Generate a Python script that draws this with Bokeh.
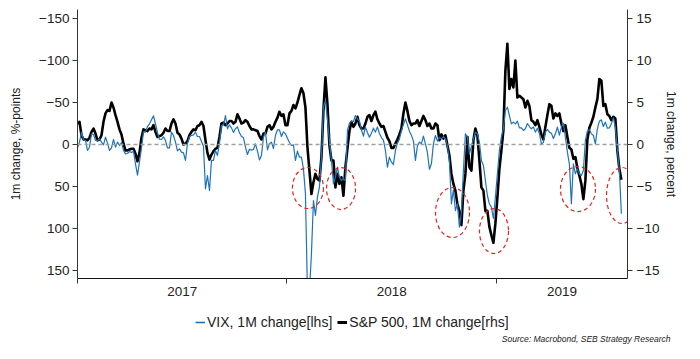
import numpy as np
from bokeh.plotting import figure
from bokeh.layouts import column
from bokeh.models import (Range1d, LinearAxis, FixedTicker, Span, Legend, LegendItem,
                          CustomJSTickFormatter, Title, ColumnDataSource)
from bokeh.embed import file_html
from bokeh.resources import INLINE

# ---------------- data ----------------
# VIX, 1M change (left axis, %-points), sampled roughly every 3.5 days from Jan 2017
vix_change = [
    4.0, -2.8, -14.7, -5.6, -4.8, 7.1, 3.2, -12.7, -11.9, -4.8,
    -4.8, -6.7, -2.8, 0.4, -8.7, -1.6, 7.1, 4.0, -6.0, 3.2,
    -2.8, 1.2, -2.4, 7.1, 11.1, 10.7, 8.3, 9.5, 7.9, 23.0,
    36.5, 20.6, 4.0, -15.1, -14.7, -21.4, -24.6, -29.4, -34.1, -24.6,
    -14.3, -6.3, -6.0, -9.1, -4.8,
    4.0, 4.0, -14.7, -10.7, -2.8, 7.5, 5.2, 9.1, 9.9, 19.0,
    -1.6, -9.5, -10.7, -11.5, -14.7, -9.5, -9.5, -3.6, 2.0, 52.8,
    36.9, 54.8, 19.0, 19.0, 7.1, 13.1, -1.6, -22.6, -23.0, -34.5,
    -18.7, -23.4, -19.8, -14.3, -18.7, -21.0, -13.9, -9.5, -8.3, 3.2,
    11.9, 5.6, 6.7, 6.0, -0.8,
    7.9, 18.3, 13.1, -8.7, -14.7, 6.3, -0.8, -2.8, 4.8, -10.7,
    -17.5, -17.5, -9.5, -15.1, -12.7, -7.5, -2.4, 1.2, 0.4, 19.0,
    7.9, 15.1, 15.1, 29.0, 58.7, 175.0, 175.0, 130.0, 66.7, 84.5,
    62.7, 50.8, 15.1, -45.0, -52.0, -30.0, -4.8, 19.0, 46.8, 38.9,
    27.0, 38.9, 42.9, 40.9, 42.9,
    -16.7, -25.4, -27.8, -27.4, -34.5, -30.6, -27.8, -17.5, -9.9, -20.6,
    -14.3, -8.7, -13.5, -19.4, -14.7, -21.0, -13.1, -8.3, -5.2, 7.1,
    27.0, 15.1, 21.0, 23.8, 7.1, -1.6, -6.3, -16.7, -23.8, -30.6,
    -23.4, -15.9, -11.1, -4.0, 19.0, 1.6, -2.8, -0.8, -9.9, -0.8,
    9.5, 29.4, 23.0, -0.8, -10.7,
    -4.0, -8.7, -6.7, -9.5, -6.7, 1.2, 19.0, 70.6, 54.0, 78.6,
    70.6, 98.4, 80.6, 31.0, -12.7, -8.7, 11.1, 2.4, -6.7, -14.7,
    -12.7, -2.8, 19.0, 25.0, 42.9, 60.7, 70.6, 74.6, 88.0, 62.7,
    34.9, 7.1, -8.7, -18.7, -40.5, -44.4, -34.5, -24.6, -26.6, -24.6,
    -27.8, -19.8, -19.8, -16.7, -18.7,
    -25.0, -21.4, -18.7, -21.0, -14.7, -19.4, -13.1, -0.8, -2.4, -14.7,
    -17.9, -14.7, -13.5, -7.1, -12.7, -20.6, -11.1, -20.6, -25.4, -8.7,
    9.1, 23.0, 70.6, 23.0, 34.9, 29.0, 34.9, 36.9, 31.0, -4.8,
    -15.9, -17.5, -12.7, -10.7, -0.8, -18.7, -27.8, -29.4, -21.4, -26.6,
    -19.4, -19.8, -24.6, -31.7, -20.6, 6.3, 31.0, 82.5,
]

# S&P 500, 1M change (right axis, percent), same sampling
spx_change = [
    2.5, 2.7, 1.1, 0.6, 0.6, 0.5, 0.8, 1.5, 1.9, 1.3,
    0.5, 0.6, 1.1, 2.7, 3.7, 4.1, 4.0, 5.0, 4.4, 3.5,
    2.7, 1.8, 1.2, 0.1, -0.7, -0.7, -0.6, -0.5, -0.5, -1.1,
    -2.0, -1.0, 0.8, 1.8, 1.7, 1.6, 1.9, 1.8, 2.3, 1.5,
    0.9, 1.0, 1.1, 1.4, 1.9,
    1.6, 1.6, 2.5, 3.0, 2.5, 1.4, 1.2, 0.7, 0.0, 0.1,
    0.4, 1.1, 1.5, 1.8, 1.7, 2.2, 2.3, 2.7, 2.2, 0.5,
    -1.0, -1.8, -1.2, -0.8, -0.5, -0.4, 0.9, 2.5, 2.6, 2.3,
    2.5, 2.8, 2.8, 2.5, 2.7, 3.6, 3.1, 2.5, 2.6, 2.9,
    2.7, 2.2, 1.8, 1.8, 1.7,
    1.6, 1.0, 0.6, 1.3, 1.3, 2.1, 2.3, 1.8, 2.1, 2.7,
    3.2, 3.9, 3.4, 3.6, 2.3, 2.3, 3.7, 4.0, 4.7, 4.3,
    5.0, 5.9, 6.7, 6.1, 4.4, -0.3, -3.1, -5.9, -4.5, -3.5,
    -4.1, -4.3, -1.5, 4.1, 8.0, 4.8, -0.1, -1.9, -1.9, -5.1,
    -3.5, -4.7, -3.9, -6.1, -2.7,
    -0.5, 1.6, 2.7, 2.1, 2.5, 3.3, 2.3, 1.9, 1.9, 2.5,
    3.3, 3.5, 2.8, 3.5, 3.9, 3.0, 2.5, 2.1, 2.2, 1.5,
    0.8, 0.4, -0.4, -0.4, 0.1, 0.6, 1.2, 1.9, 3.7, 5.0,
    4.0, 2.8, 2.3, 2.5, 2.5, 2.9, 2.2, 2.8, 3.4, 2.9,
    2.2, 2.5, 1.9, 1.9, 2.5,
    2.3, 0.5, 1.2, 0.7, 1.1, -0.1, -1.3, -3.5, -4.7, -5.5,
    -7.1, -7.9, -9.6, -5.5, -3.5, 0.9, -2.7, -3.1, 0.5, 1.9,
    1.1, -1.9, -5.1, -5.5, -7.9, -7.9, -9.8, -10.8, -11.7, -9.4,
    -6.3, -2.9, -0.7, 1.7, 8.8, 12.0, 6.6, 7.8, 6.8, 10.0,
    5.6, 5.8, 5.6, 5.4, 4.4,
    5.2, 4.6, 2.9, 2.7, 2.3, 2.9, 2.1, 1.2, 0.6, 2.1,
    3.5, 4.8, 4.6, 3.1, 3.7, 3.4, 3.7, 2.5, 1.6, 2.3,
    0.9, -0.4, -0.6, -1.7, -1.5, -2.8, -3.7, -4.7, -6.5, -4.3,
    0.6, 2.0, 2.6, 3.3, 4.4, 5.4, 7.8, 7.6, 4.6, 4.8,
    3.6, 3.4, 2.9, 3.3, 3.1, -0.7, -2.9, -4.2,
]

# sampling: decimal years starting 2017-01-01, one observation every ~3.49 days
start_year = 2017.0
step_days = 3.486
t_years = start_year + np.arange(len(vix_change)) * step_days / 365.25

# highlighted sell-off episodes (red dashed ellipses): decimal year, VIX-scale value
episode_t = [2018.100, 2018.258, 2018.790, 2018.988, 2019.389, 2019.599]
episode_v = [51.8, 52.4, 81.0, 103.0, 53.0, 60.7]
# ellipse sizes (screen pixels)
episode_w = [31, 29, 34, 29, 35, 31]
episode_h = [41, 42, 50, 45, 45, 56]

series_names = ["VIX, 1M change[lhs]", "S&P 500, 1M change[rhs]"]
source_note = "Source: Macrobond, SEB Strategy Research"

# ---------------- styling ----------------
FONT = "Liberation Sans"
TXT = "#222222"
AX = "#333333"
BLUE = "#1c74bb"
VIX_W, SPX_W = 1.2, 2.6
BORDER_L, BORDER_R, FRAME_W = 77, 73, 550

x_end = 2019.6253

p = figure(frame_width=FRAME_W, frame_height=269, output_backend="svg", toolbar_location=None,
           x_range=Range1d(start_year, x_end), y_range=Range1d(159.5, -160.7),
           x_axis_location=None, y_axis_location=None,
           min_border_left=BORDER_L, min_border_right=BORDER_R, min_border_top=9,
           min_border_bottom=30)
p.extra_y_ranges = {"spx": Range1d(-15.95, 16.07)}
p.outline_line_color = None
p.xgrid.visible = False
p.ygrid.visible = False
p.background_fill_color = "white"
p.border_fill_color = "white"

# zero line
p.add_layout(Span(location=0, dimension="width", line_color="#a0a0a0",
                  line_dash="4 3", line_width=1.6))

src = ColumnDataSource(dict(t=t_years, vix=vix_change, spx=spx_change))
p.line("t", "spx", source=src, y_range_name="spx", line_color="black",
       line_width=SPX_W, line_join="round")
p.line("t", "vix", source=src, line_color=BLUE, line_width=VIX_W, line_join="round")

# red dashed ellipses
esrc = ColumnDataSource(dict(x=episode_t, y=episode_v, w=episode_w, h=episode_h))
p.ellipse(x="x", y="y", width="w", height="h", width_units="screen",
          height_units="screen", source=esrc, fill_color=None,
          line_color="#e8211c", line_width=1.2, line_dash="4 3")

def style_axis(ax):
    ax.axis_line_color = AX
    ax.major_tick_line_color = AX
    ax.minor_tick_line_color = AX
    ax.major_label_text_font = FONT
    ax.major_label_text_font_size = "13.5px"
    ax.major_label_text_color = TXT
    ax.axis_label_text_font = FONT
    ax.axis_label_text_font_size = "12px"
    ax.axis_label_text_font_style = "normal"
    ax.axis_label_text_color = TXT

# left axis (VIX, inverted)
yl = LinearAxis(ticker=FixedTicker(ticks=[-150, -100, -50, 0, 50, 100, 150]),
                axis_label="1m change, %-points")
style_axis(yl)
yl.major_tick_out = 5
yl.major_tick_in = 0
yl.minor_tick_out = 0
yl.major_label_standoff = 3
yl.axis_label_standoff = 13
p.add_layout(yl, "left")

# right axis (S&P 500)
yr = LinearAxis(y_range_name="spx", ticker=FixedTicker(ticks=[-15, -10, -5, 0, 5, 10, 15]),
                axis_label="1m change, percent")
style_axis(yr)
yr.major_tick_out = 5
yr.major_tick_in = 0
yr.minor_tick_out = 0
yr.major_label_standoff = 4
yr.axis_label_standoff = 2
p.add_layout(yr, "right")

# bottom axis: tick marks at year boundaries, labels centred in each year
bounds = [start_year, start_year + 1, start_year + 2]
label_pos = [start_year + 0.5, start_year + 1.5, (start_year + 2 + x_end) / 2]
xb = LinearAxis(ticker=FixedTicker(ticks=label_pos, minor_ticks=bounds),
                formatter=CustomJSTickFormatter(code="return String(Math.floor(tick));"))
style_axis(xb)
xb.major_tick_out = 0
xb.major_tick_in = 0
xb.minor_tick_out = 5
xb.minor_tick_in = 0
xb.major_label_standoff = 3
xb.axis_line_color = "#111111"
p.add_layout(xb, "below")

# ---------------- footer strip: legend + source note ----------------
f = figure(frame_width=FRAME_W, frame_height=22, output_backend="svg", toolbar_location=None,
           x_range=Range1d(0, 1), y_range=Range1d(0, 1),
           x_axis_location=None, y_axis_location=None,
           min_border_left=BORDER_L, min_border_right=BORDER_R, min_border_top=0,
           min_border_bottom=0)
f.outline_line_color = None
f.xgrid.visible = False
f.ygrid.visible = False
f.border_fill_color = "white"
f.background_fill_color = "white"

# legend keys (lines kept outside the visible strip, only their legend glyphs show)
k_vix = f.line(x=[5, 6], y=[5, 5], line_color=BLUE, line_width=VIX_W + 0.4)
k_spx = f.line(x=[5, 6], y=[5, 5], line_color="black", line_width=SPX_W + 0.4)
legend = Legend(items=[LegendItem(label=series_names[0], renderers=[k_vix]),
                       LegendItem(label=series_names[1], renderers=[k_spx])],
                orientation="horizontal", location=(118, 0),
                glyph_width=10, glyph_height=14, label_standoff=2, spacing=5,
                padding=2, margin=0, border_line_color=None, background_fill_alpha=0,
                label_text_font=FONT, label_text_font_size="14px", label_text_color=TXT)
f.add_layout(legend)

f.add_layout(Title(text=source_note, align="right", offset=-43, standoff=3,
                   text_font=FONT, text_font_size="8.5px", text_font_style="italic",
                   text_color=TXT), "below")

layout = column(p, f, spacing=0)
open("out.html", "w").write(file_html(layout, INLINE))
